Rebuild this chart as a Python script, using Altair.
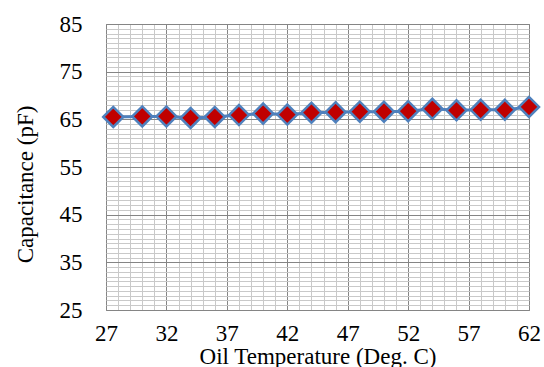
import altair as alt
import pandas as pd

# Data
temps = [27.6, 30, 32, 34, 36, 38, 40, 42, 44, 46, 48, 50, 52, 54, 56, 58, 60, 62]
caps = [65.5, 65.6, 65.6, 65.3, 65.5, 65.9, 66.2, 66.0, 66.4, 66.5, 66.6, 66.6,
        66.7, 67.2, 66.9, 67.0, 67.0, 67.6]

x_major = [27, 32, 37, 42, 47, 52, 57, 62]
y_major = [25, 35, 45, 55, 65, 75, 85]
x_minor = list(range(27, 63))
y_minor = list(range(25, 86))

df = pd.DataFrame({"t": temps, "c": caps})

FONT = "Liberation Serif"
MAJOR = "#858585"
MINOR = "#c9c9c9"


def is_major(vals):
    return "indexof([" + ",".join(str(v) for v in vals) + "], datum.value) >= 0"


x_enc = alt.X(
    "t:Q",
    scale=alt.Scale(domain=[27, 62], nice=False, zero=False),
    axis=alt.Axis(
        values=x_minor,
        labelExpr=is_major(x_major) + " ? datum.label : ''",
        gridColor={"condition": {"test": is_major(x_major), "value": MAJOR}, "value": MINOR},
        title="Oil Temperature (Deg. C)",
        titleY=35,
        titleBaseline="top",
        labelPadding=12,
        labelFlush=False,
        labelOverlap=False,
    ),
)
y_enc = alt.Y(
    "c:Q",
    scale=alt.Scale(domain=[25, 85], nice=False, zero=False),
    axis=alt.Axis(
        values=y_minor,
        labelExpr=is_major(y_major) + " ? datum.label : ''",
        gridColor={"condition": {"test": is_major(y_major), "value": MAJOR}, "value": MINOR},
        title="Capacitance (pF)",
        titleX=-81,
        titleY=160,
        titleBaseline="middle",
        titleAlign="center",
        labelPadding=24,
        labelFlush=False,
        labelOverlap=False,
    ),
)

base = alt.Chart(df).encode(x=x_enc, y=y_enc)
line = base.mark_line(color="#4F81BD", strokeWidth=3)
pts = base.mark_point(
    shape="diamond", filled=True, fill="#C00000", stroke="#4F81BD",
    strokeWidth=2.5, size=400, opacity=1,
)

chart = (
    alt.layer(line, pts)
    .properties(
        width=423,
        height=286,
        autosize=alt.AutoSizeParams(type="none"),
        padding={"left": 106, "top": 24, "right": 15, "bottom": 57},
        background="white",
    )
    .configure_view(stroke=MAJOR, strokeWidth=1)
    .configure_axis(
        domain=False,
        ticks=False,
        grid=True,
        gridWidth=1,
        labelFont=FONT,
        labelFontSize=23,
        labelColor="#000000",
        titleFont=FONT,
        titleFontSize=23,
        titleFontWeight="normal",
        titleColor="#000000",
    )
)

chart.save("out.html", embed_options={"renderer": "svg", "actions": False})
